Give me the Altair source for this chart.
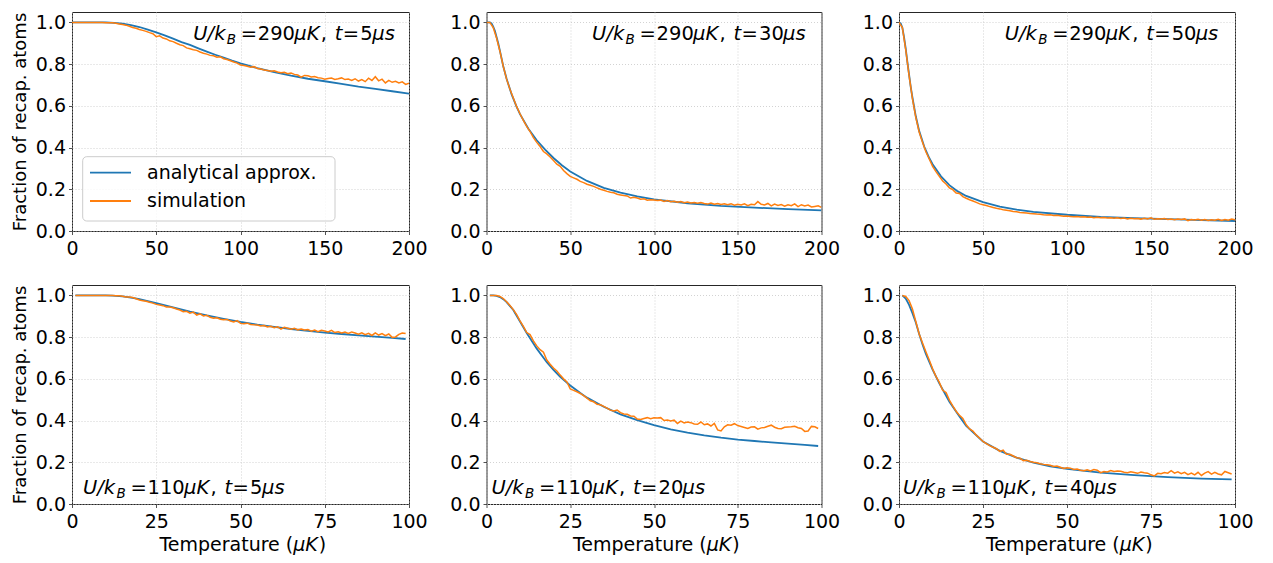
import altair as alt
import pandas as pd

FONT = "DejaVu Sans"
BLUE = "#1f77b4"
ORANGE = "#ff7f0e"
BLACK = "#000000"
FS = 19
AFS = 19.5

TOP_TICKS = [0, 50, 100, 150, 200]
BOT_TICKS = [0, 25, 50, 75, 100]
Y_TICKS = [0.0, 0.2, 0.4, 0.6, 0.8, 1.0]

# ---------------- panel 1: U/kB = 290 uK, t = 5 us ----------------
p1_bx = [0, 10, 20, 25, 30, 35, 40, 45, 50, 55, 60, 65, 70, 75, 80, 85, 90, 95, 100,
         110, 120, 130, 140, 150, 160, 170, 180, 190, 200]
p1_by = [1.0, 1.0, 1.0, 0.998, 0.994, 0.987, 0.978, 0.965, 0.952, 0.938, 0.922, 0.906,
         0.892, 0.876, 0.86, 0.845, 0.831, 0.817, 0.804, 0.781, 0.762, 0.745, 0.73,
         0.718, 0.705, 0.692, 0.681, 0.67, 0.659]
p1_ox = list(range(0, 201, 2))
p1_oy = [1.0, 1.0, 1.0, 1.0, 1.0, 1.0, 1.0, 1.0, 1.0, 1.0, 0.999,
         0.999, 0.998, 0.996, 0.993, 0.99, 0.987, 0.982, 0.976, 0.972, 0.966,
         0.962, 0.957, 0.951, 0.946, 0.932, 0.936, 0.925, 0.921, 0.912, 0.908,
         0.9, 0.893, 0.889, 0.878, 0.874, 0.869, 0.866, 0.858, 0.852, 0.848,
         0.842, 0.84, 0.833, 0.835, 0.826, 0.822, 0.816, 0.81, 0.805, 0.796,
         0.793, 0.79, 0.785, 0.788, 0.779, 0.777, 0.772, 0.77, 0.766, 0.768,
         0.762, 0.759, 0.761, 0.754, 0.757, 0.751, 0.748, 0.738, 0.746, 0.744,
         0.738, 0.741, 0.735, 0.733, 0.728, 0.731, 0.733, 0.727, 0.73, 0.734,
         0.726, 0.729, 0.722, 0.73, 0.719, 0.726, 0.716, 0.733, 0.722, 0.74,
         0.72, 0.728, 0.71, 0.722, 0.713, 0.718, 0.71, 0.715, 0.703, 0.708]

# ---------------- panel 2: U/kB = 290 uK, t = 30 us ----------------
p2_bx = [0, 2, 3, 4, 5, 6, 7, 8, 10, 12, 15, 18, 20, 25, 30, 35, 40, 45, 50, 60, 70,
         80, 90, 100, 120, 140, 160, 180, 200]
p2_by = [1.0, 1.0, 0.995, 0.98, 0.96, 0.93, 0.9, 0.865, 0.79, 0.73, 0.655, 0.595, 0.56,
         0.49, 0.435, 0.39, 0.35, 0.315, 0.285, 0.24, 0.207, 0.184, 0.166, 0.152,
         0.133, 0.12, 0.112, 0.105, 0.099]
p2_ox = list(range(0, 201, 2))
p2_oy = [1.0, 1.0, 0.975, 0.925, 0.862, 0.79, 0.728, 0.68, 0.638, 0.596, 0.562,
         0.53, 0.502, 0.477, 0.448, 0.425, 0.405, 0.381, 0.37, 0.355, 0.338,
         0.32, 0.31, 0.29, 0.275, 0.262, 0.255, 0.248, 0.238, 0.232, 0.224,
         0.219, 0.214, 0.207, 0.2, 0.195, 0.19, 0.186, 0.183, 0.176, 0.173,
         0.17, 0.168, 0.158, 0.162, 0.158, 0.152, 0.154, 0.148, 0.15, 0.149,
         0.146, 0.148, 0.142, 0.146, 0.14, 0.143, 0.138, 0.141, 0.136, 0.139,
         0.134, 0.137, 0.133, 0.136, 0.132, 0.129, 0.134, 0.128, 0.132, 0.127,
         0.13, 0.126, 0.131, 0.124, 0.128, 0.125, 0.13, 0.121, 0.128, 0.126,
         0.141, 0.128, 0.125, 0.132, 0.12, 0.129, 0.122, 0.127, 0.119, 0.126,
         0.121, 0.13, 0.117, 0.126, 0.12, 0.124, 0.115, 0.118, 0.121, 0.113]

# ---------------- panel 3: U/kB = 290 uK, t = 50 us ----------------
p3_bx = [0, 1, 2, 3, 4, 5, 6, 7, 8, 10, 12, 15, 18, 20, 25, 30, 35, 40, 50, 60, 70, 80,
         100, 120, 140, 160, 180, 200]
p3_by = [1.0, 0.995, 0.975, 0.93, 0.875, 0.81, 0.75, 0.69, 0.64, 0.55, 0.48, 0.405,
         0.35, 0.32, 0.262, 0.22, 0.19, 0.168, 0.138, 0.117, 0.103, 0.092, 0.078,
         0.068, 0.062, 0.057, 0.052, 0.048]
p3_ox = list(range(0, 201, 2))
p3_oy = [1.0, 0.975, 0.87, 0.745, 0.635, 0.545, 0.475, 0.425, 0.38, 0.345, 0.31,
         0.285, 0.262, 0.24, 0.225, 0.207, 0.198, 0.182, 0.18, 0.165, 0.157,
         0.15, 0.144, 0.137, 0.13, 0.126, 0.122, 0.117, 0.113, 0.109, 0.106,
         0.102, 0.1, 0.097, 0.094, 0.092, 0.089, 0.088, 0.086, 0.084, 0.083,
         0.081, 0.08, 0.078, 0.077, 0.078, 0.074, 0.075, 0.073, 0.071, 0.072,
         0.07, 0.068, 0.07, 0.067, 0.068, 0.066, 0.067, 0.064, 0.066, 0.063,
         0.065, 0.062, 0.064, 0.061, 0.063, 0.06, 0.062, 0.058, 0.061, 0.059,
         0.06, 0.057, 0.061, 0.058, 0.063, 0.056, 0.059, 0.057, 0.06, 0.055,
         0.058, 0.054, 0.057, 0.055, 0.058, 0.05, 0.055, 0.053, 0.056, 0.052,
         0.055, 0.051, 0.054, 0.052, 0.056, 0.051, 0.055, 0.052, 0.057, 0.054]

# ---------------- panel 4: U/kB = 110 uK, t = 5 us ----------------
p4_bx = [1, 5, 10, 12, 15, 18, 20, 25, 30, 35, 40, 45, 50, 55, 60, 65, 70, 75, 80, 85,
         90, 95, 99]
p4_by = [1.0, 1.0, 1.0, 0.999, 0.995, 0.988, 0.982, 0.963, 0.943, 0.922, 0.904, 0.888,
         0.873, 0.86, 0.849, 0.839, 0.83, 0.822, 0.815, 0.808, 0.802, 0.796, 0.791]
p4_ox = list(range(1, 100))
p4_oy = [1.0, 1.0, 1.0, 1.0, 1.0, 1.0, 1.0, 1.0, 1.0, 1.0, 1.0, 1.0,
         0.999, 0.998, 0.996, 0.993, 0.992, 0.99, 0.984, 0.978, 0.975, 0.972,
         0.967, 0.963, 0.957, 0.954, 0.951, 0.945, 0.944, 0.941, 0.935, 0.93,
         0.922, 0.924, 0.915, 0.92, 0.906, 0.912, 0.902, 0.905, 0.895, 0.891,
         0.893, 0.886, 0.883, 0.885, 0.877, 0.873, 0.879, 0.866, 0.864, 0.867,
         0.861, 0.859, 0.858, 0.853, 0.856, 0.849, 0.852, 0.845, 0.85, 0.839,
         0.847, 0.843, 0.838, 0.842, 0.835, 0.839, 0.834, 0.837, 0.829, 0.834,
         0.826, 0.833, 0.829, 0.825, 0.833, 0.822, 0.826, 0.82, 0.824, 0.818,
         0.825, 0.82, 0.814, 0.821, 0.812, 0.818, 0.808, 0.82, 0.81, 0.817,
         0.807, 0.815, 0.799, 0.801, 0.813, 0.82, 0.817]

# ---------------- panel 5: U/kB = 110 uK, t = 20 us ----------------
p5_bx = [1, 2, 3, 4, 5, 6, 8, 10, 12, 15, 18, 20, 22, 25, 28, 30, 35, 40, 45, 50, 55,
         60, 65, 70, 75, 80, 85, 90, 95, 99]
p5_by = [1.0, 1.0, 0.998, 0.992, 0.982, 0.968, 0.93, 0.875, 0.82, 0.745, 0.68, 0.643,
         0.61, 0.568, 0.532, 0.51, 0.466, 0.43, 0.402, 0.378, 0.358, 0.342, 0.329,
         0.318, 0.309, 0.302, 0.295, 0.289, 0.283, 0.278]
p5_ox = list(range(1, 100))
p5_oy = [1.0, 1.0, 1.0, 0.995, 0.985, 0.97, 0.952, 0.932, 0.908, 0.878,
         0.852, 0.822, 0.812, 0.782, 0.758, 0.74, 0.728, 0.69, 0.67, 0.652,
         0.638, 0.618, 0.6, 0.585, 0.552, 0.545, 0.538, 0.53, 0.52, 0.508,
         0.495, 0.49, 0.478, 0.476, 0.468, 0.46, 0.45, 0.446, 0.45, 0.438,
         0.432, 0.43, 0.422, 0.421, 0.407, 0.405, 0.41, 0.414, 0.409, 0.413,
         0.412, 0.414, 0.4, 0.403, 0.398, 0.402, 0.386, 0.397, 0.389, 0.393,
         0.39, 0.384, 0.382, 0.393, 0.38, 0.384, 0.374, 0.386, 0.355, 0.35,
         0.37, 0.38, 0.378, 0.385, 0.376, 0.372, 0.367, 0.362, 0.369, 0.37,
         0.359, 0.365, 0.367, 0.373, 0.378, 0.368, 0.362, 0.361, 0.368, 0.369,
         0.37, 0.373, 0.366, 0.362, 0.348, 0.35, 0.372, 0.37, 0.362]

# ---------------- panel 6: U/kB = 110 uK, t = 40 us ----------------
p6_bx = [1, 2, 3, 4, 5, 6, 7, 8, 10, 12, 15, 18, 20, 25, 30, 35, 40, 45, 50, 60, 70,
         80, 90, 99]
p6_by = [1.0, 0.985, 0.955, 0.915, 0.87, 0.815, 0.765, 0.72, 0.644, 0.578, 0.49, 0.42,
         0.375, 0.3, 0.255, 0.222, 0.198, 0.181, 0.168, 0.15, 0.138, 0.129, 0.122, 0.118]
p6_ox = list(range(1, 100))
p6_oy = [1.0, 0.995, 0.975, 0.935, 0.875, 0.815, 0.772, 0.73, 0.69, 0.648,
         0.612, 0.583, 0.545, 0.535, 0.498, 0.47, 0.445, 0.425, 0.41, 0.38,
         0.36, 0.35, 0.33, 0.315, 0.3, 0.29, 0.28, 0.272, 0.265, 0.252,
         0.258, 0.238, 0.238, 0.23, 0.222, 0.22, 0.208, 0.21, 0.204, 0.2,
         0.198, 0.193, 0.19, 0.188, 0.186, 0.18, 0.182, 0.176, 0.17, 0.174,
         0.172, 0.166, 0.168, 0.162, 0.16, 0.164, 0.158, 0.165, 0.162, 0.15,
         0.156, 0.154, 0.16, 0.156, 0.158, 0.157, 0.152, 0.15, 0.154, 0.151,
         0.147, 0.153, 0.15, 0.148, 0.14, 0.135, 0.147, 0.145, 0.151, 0.148,
         0.16, 0.148, 0.154, 0.145, 0.152, 0.141, 0.148, 0.14, 0.152, 0.137,
         0.148, 0.155, 0.143, 0.152, 0.144, 0.14, 0.156, 0.15, 0.144]

PANELS = [
    dict(bx=p1_bx, by=p1_by, ox=p1_ox, oy=p1_oy, xmax=200, ticks=TOP_TICKS, U="290", t="5"),
    dict(bx=p2_bx, by=p2_by, ox=p2_ox, oy=p2_oy, xmax=200, ticks=TOP_TICKS, U="290", t="30"),
    dict(bx=p3_bx, by=p3_by, ox=p3_ox, oy=p3_oy, xmax=200, ticks=TOP_TICKS, U="290", t="50"),
    dict(bx=p4_bx, by=p4_by, ox=p4_ox, oy=p4_oy, xmax=100, ticks=BOT_TICKS, U="110", t="5"),
    dict(bx=p5_bx, by=p5_by, ox=p5_ox, oy=p5_oy, xmax=100, ticks=BOT_TICKS, U="110", t="20"),
    dict(bx=p6_bx, by=p6_by, ox=p6_ox, oy=p6_oy, xmax=100, ticks=BOT_TICKS, U="110", t="40"),
]

COL_W = [337, 335, 336]
H = 219
ANN_START = [[121.3, 105.6, 105.7], [11, 5, 4]]
ANN_BASE = [28, 209]
Y_TITLE = "Fraction of recap. atoms"


def text_layer(txt, px, py, size=FS, style="normal", align="left", baseline="alphabetic"):
    return alt.Chart(alt.Data(values=[{"k": 0}])).mark_text(
        text=txt, font=FONT, fontSize=size, fontStyle=style, align=align,
        baseline=baseline, color=BLACK
    ).encode(x=alt.value(px), y=alt.value(py))


def annotation(U, t, x0, y0):
    nT = len(t)
    segs = [
        ("U/k", 0, "italic", AFS, 0),
        ("B", 33.5, "italic", 13.5, 3.5),
        ("=", 47.5, "normal", AFS, 0),
        (U, 64.5, "normal", AFS, 0),
        ("μK", 101.0, "italic", AFS, 0),
        (",", 127.5, "normal", AFS, 0),
        ("t", 141.5, "italic", AFS, 0),
        ("=", 149.5, "normal", AFS, 0),
        (t, 167.0, "normal", AFS, 0),
        ("μs", 167.0 + 12.0 * nT, "italic", AFS, 0),
    ]
    return [text_layer(s, x0 + dx, y0 + dy, size, style) for s, dx, style, size, dy in segs]


def xtitle(w):
    em = FS
    total = 8.916 * em
    anchor = w / 2 + total / 2 - 1.682 * em
    yb = H + 47
    return [
        text_layer("Temperature (", anchor, yb, align="right"),
        text_layer("μK", anchor, yb, style="italic"),
        text_layer(")", anchor + 1.292 * em + 1.0, yb),
    ]


def legend_layers():
    box = alt.Chart(alt.Data(values=[{"k": 0}])).mark_rect(
        fill="white", fillOpacity=0.8, stroke="#cccccc", strokeWidth=1, cornerRadius=4
    ).encode(x=alt.value(10.7), x2=alt.value(263), y=alt.value(144.7), y2=alt.value(209))
    out = [box]
    for yy, col, lab in [(160.7, BLUE, "analytical approx."), (189, ORANGE, "simulation")]:
        out.append(alt.Chart(alt.Data(values=[{"k": 0}])).mark_rule(
            color=col, strokeWidth=1.8
        ).encode(x=alt.value(18), x2=alt.value(59), y=alt.value(yy)))
        out.append(text_layer(lab, 75, yy, baseline="middle"))
    return out


charts = []
for i, p in enumerate(PANELS):
    row, col = divmod(i, 3)
    w = COL_W[col]
    xs = alt.Scale(domain=[0, p["xmax"]], nice=False, zero=False)
    ys = alt.Scale(domain=[0, 1.05], nice=False)
    xax = alt.Axis(values=p["ticks"], format="d", title=None)
    if col == 0:
        yax = alt.Axis(values=Y_TICKS, format=".1f", title=Y_TITLE)
    else:
        yax = alt.Axis(values=Y_TICKS, format=".1f", title=None)
    dfb = pd.DataFrame({"x": p["bx"], "y": p["by"]})
    dfo = pd.DataFrame({"x": p["ox"], "y": p["oy"]})
    blue = alt.Chart(dfb).mark_line(color=BLUE, strokeWidth=1.8, clip=True).encode(
        x=alt.X("x:Q", scale=xs, axis=xax), y=alt.Y("y:Q", scale=ys, axis=yax))
    orange = alt.Chart(dfo).mark_line(color=ORANGE, strokeWidth=1.5, clip=True).encode(
        x=alt.X("x:Q", scale=xs, axis=xax), y=alt.Y("y:Q", scale=ys, axis=yax))
    layers = [blue, orange]
    layers += annotation(p["U"], p["t"], ANN_START[row][col], ANN_BASE[row])
    if i == 0:
        layers += legend_layers()
    if row == 1:
        layers += xtitle(w)
    charts.append(alt.layer(*layers).properties(width=w, height=H))

chart = alt.concat(
    *charts, columns=3, spacing={"row": 54, "column": 77.5}, bounds="flush"
).properties(
    padding={"left": 2, "top": 3, "right": 2, "bottom": 0}
).configure_view(
    stroke="#262626", strokeWidth=1
).configure_axis(
    labelFont=FONT, labelFontSize=FS, labelColor=BLACK,
    titleFont=FONT, titleFontSize=18, titleColor=BLACK, titleFontWeight="normal",
    tickColor="#262626", tickWidth=0.8, tickSize=3.5,
    domain=False, gridColor="#c8c8c8", gridDash=[1, 2], gridWidth=0.8,
    labelPadding=3, titlePadding=6, labelFlush=False, labelOverlap=False
).configure_axisX(
    labelPadding=5
)

chart.save("out.html", embed_options={"renderer": "svg", "actions": False})
